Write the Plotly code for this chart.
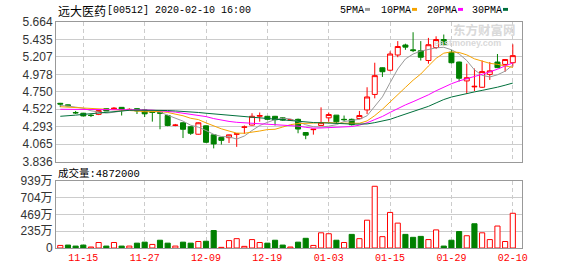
import plotly.graph_objects as go

# ---------------- data ----------------
dates = ["11-12", "11-13", "11-14", "11-15", "11-18", "11-19", "11-20", "11-21", "11-22", "11-25",
         "11-26", "11-27", "11-28", "11-29", "12-02", "12-03", "12-04", "12-05", "12-06", "12-09",
         "12-10", "12-11", "12-12", "12-13", "12-16", "12-17", "12-18", "12-19", "12-20", "12-23",
         "12-24", "12-27", "12-30", "12-31", "01-02", "01-03", "01-06", "01-07", "01-08", "01-09",
         "01-10", "01-13", "01-14", "01-15", "01-16", "01-17", "01-20", "01-21", "01-22", "01-23",
         "01-24", "01-29", "01-30", "01-31", "02-03", "02-04", "02-05", "02-06", "02-07", "02-10"]

opens = [4.600, 4.580, 4.480, 4.470, 4.445, 4.455, 4.530, 4.525, 4.547, 4.515,
         4.530, 4.513, 4.490, 4.480, 4.440, 4.310, 4.345, 4.293, 4.195, 4.305,
         4.187, 4.153, 4.150, 4.195, 4.285, 4.315, 4.430, 4.430, 4.430, 4.410,
         4.380, 4.390, 4.217, 4.255, 4.310, 4.410, 4.445, 4.390, 4.390, 4.400,
         4.513, 4.716, 5.065, 5.033, 5.232, 5.363, 5.300, 5.287, 5.160, 5.330,
         5.435, 5.267, 5.140, 4.893, 4.815, 4.810, 4.978, 5.140, 5.109, 5.131]
highs = [4.605, 4.585, 4.500, 4.475, 4.460, 4.510, 4.535, 4.550, 4.550, 4.535,
         4.535, 4.520, 4.500, 4.490, 4.450, 4.330, 4.350, 4.300, 4.350, 4.310,
         4.190, 4.160, 4.190, 4.210, 4.310, 4.470, 4.480, 4.435, 4.435, 4.420,
         4.390, 4.400, 4.220, 4.265, 4.547, 4.480, 4.445, 4.440, 4.400, 4.500,
         4.810, 5.131, 5.070, 5.280, 5.414, 5.380, 5.530, 5.414, 5.456, 5.477,
         5.500, 5.300, 5.145, 5.118, 5.055, 5.160, 5.140, 5.245, 5.180, 5.372]
lows = [4.550, 4.560, 4.460, 4.430, 4.420, 4.445, 4.500, 4.515, 4.440, 4.505,
        4.460, 4.420, 4.360, 4.260, 4.300, 4.300, 4.145, 4.187, 4.190, 4.080,
        4.010, 4.060, 4.080, 4.030, 4.200, 4.310, 4.360, 4.380, 4.310, 4.370,
        4.375, 4.208, 4.130, 4.190, 4.310, 4.360, 4.330, 4.370, 4.310, 4.390,
        4.460, 4.665, 4.945, 5.020, 5.203, 5.300, 5.270, 5.160, 5.118, 5.310,
        5.350, 5.120, 4.886, 4.725, 4.760, 4.800, 4.906, 5.060, 5.013, 5.080]
closes = [4.590, 4.568, 4.475, 4.435, 4.440, 4.505, 4.500, 4.535, 4.517, 4.520,
          4.500, 4.462, 4.480, 4.470, 4.310, 4.315, 4.260, 4.208, 4.345, 4.090,
          4.068, 4.115, 4.187, 4.200, 4.290, 4.430, 4.440, 4.390, 4.385, 4.380,
          4.385, 4.263, 4.183, 4.260, 4.347, 4.453, 4.357, 4.386, 4.320, 4.440,
          4.683, 4.962, 5.013, 5.245, 5.343, 5.335, 5.290, 5.203, 5.367, 5.435,
          5.370, 5.131, 4.928, 4.935, 4.822, 5.015, 5.025, 5.067, 5.173, 5.224]
prev_close = 4.550

# volume in 万 (10k shares)
volumes_wan = [36, 41, 27, 41, 14, 77, 27, 77, 27, 27,
               68, 82, 50, 109, 68, 27, 82, 68, 91, 95,
               245, 9, 104, 131, 23, 118, 77, 68, 109, 41,
               14, 82, 136, 36, 213, 200, 109, 77, 191, 131,
               390, 866, 159, 499, 349, 191, 150, 163, 118, 254,
               27, 109, 231, 172, 340, 213, 118, 308, 91, 487.2]

ma5 = [4.570, 4.565, 4.550, 4.535, 4.502, 4.485, 4.471, 4.483, 4.499, 4.515,
       4.514, 4.507, 4.496, 4.486, 4.444, 4.407, 4.367, 4.313, 4.288, 4.244,
       4.194, 4.165, 4.161, 4.132, 4.172, 4.244, 4.309, 4.350, 4.387, 4.405,
       4.396, 4.361, 4.319, 4.294, 4.288, 4.301, 4.320, 4.361, 4.373, 4.391,
       4.437, 4.558, 4.684, 4.869, 5.049, 5.180, 5.245, 5.283, 5.308, 5.326,
       5.333, 5.301, 5.246, 5.160, 5.037, 4.966, 4.945, 4.973, 5.020, 5.101]
ma10 = [4.555, 4.550, 4.545, 4.540, 4.535, 4.530, 4.525, 4.520, 4.515, 4.509,
        4.500, 4.489, 4.489, 4.493, 4.480, 4.461, 4.437, 4.404, 4.387, 4.344,
        4.301, 4.266, 4.237, 4.210, 4.208, 4.219, 4.237, 4.256, 4.260, 4.289,
        4.320, 4.335, 4.335, 4.341, 4.346, 4.349, 4.340, 4.340, 4.333, 4.339,
        4.369, 4.439, 4.522, 4.621, 4.720, 4.808, 4.902, 4.983, 5.088, 5.188,
        5.256, 5.273, 5.265, 5.234, 5.182, 5.150, 5.123, 5.110, 5.090, 5.069]
ma20 = [4.522, 4.522, 4.521, 4.521, 4.520, 4.520, 4.520, 4.520, 4.519, 4.518,
        4.516, 4.513, 4.510, 4.505, 4.495, 4.485, 4.470, 4.455, 4.440, 4.426,
        4.400, 4.378, 4.363, 4.351, 4.344, 4.340, 4.337, 4.330, 4.323, 4.316,
        4.311, 4.301, 4.286, 4.275, 4.277, 4.284, 4.289, 4.298, 4.296, 4.314,
        4.345, 4.387, 4.428, 4.481, 4.533, 4.579, 4.621, 4.662, 4.711, 4.764,
        4.813, 4.856, 4.893, 4.927, 4.951, 4.979, 5.012, 5.046, 5.089, 5.128]
ma30 = [4.430, 4.435, 4.445, 4.455, 4.465, 4.475, 4.485, 4.495, 4.502, 4.508,
        4.510, 4.510, 4.510, 4.508, 4.505, 4.500, 4.495, 4.487, 4.480, 4.470,
        4.460, 4.450, 4.443, 4.435, 4.425, 4.418, 4.410, 4.400, 4.392, 4.380,
        4.374, 4.363, 4.354, 4.348, 4.345, 4.343, 4.338, 4.333, 4.327, 4.324,
        4.330, 4.347, 4.365, 4.390, 4.425, 4.459, 4.493, 4.526, 4.560, 4.605,
        4.649, 4.682, 4.707, 4.732, 4.749, 4.769, 4.788, 4.811, 4.837, 4.865]

price_ticks = [3.836, 4.065, 4.293, 4.522, 4.750, 4.978, 5.207, 5.435, 5.664]
price_tick_labels = ["3.836", "4.065", "4.293", "4.522", "4.750", "4.978", "5.207", "5.435", "5.664"]
vol_ticks = [0, 235, 469, 704, 939]
vol_tick_labels = ["0", "235万", "469万", "704万", "939万"]
date_tick_labels = ["11-15", "11-27", "12-09", "12-19", "01-03", "01-15", "01-29", "02-10"]

stock_name = "远大医药"
stock_info = "[00512] 2020-02-10 16:00"
ma_names = ["5PMA", "10PMA", "20PMA", "30PMA"]
ma_colors = ["#999999", "#f5a300", "#ff00ff", "#00703c"]

# ---------------- figure ----------------
W, H = 578, 276
L, R, T, B = 56, 522, 22, 255
PW, PH = R - L, B - T

def px_x(px):
    return (px - L) / PW

def px_y(py):
    return (B - py) / PH

x = list(range(len(dates)))
RED = "#ff0000"
GREEN = "#008000"

fig = go.Figure()

for vals, col in zip([ma5, ma10, ma20, ma30], ma_colors):
    fig.add_trace(go.Scatter(x=x, y=vals, mode="lines", line=dict(color=col, width=1),
                             xaxis="x", yaxis="y", showlegend=False, hoverinfo="skip"))

fig.add_trace(go.Candlestick(
    x=x, open=opens, high=highs, low=lows, close=closes,
    increasing=dict(line=dict(color=RED, width=1), fillcolor="#ffffff"),
    decreasing=dict(line=dict(color=GREEN, width=1), fillcolor=GREEN),
    whiskerwidth=0, xaxis="x", yaxis="y", showlegend=False))

prevs = [prev_close] + closes[:-1]
up = [c >= p for c, p in zip(closes, prevs)]
fig.add_trace(go.Bar(
    x=x, y=volumes_wan, xaxis="x2", yaxis="y2", showlegend=False,
    marker=dict(color=["#ffffff" if u else GREEN for u in up],
                line=dict(color=[RED if u else GREEN for u in up], width=1))))

tickpos = [dates.index(d) for d in date_tick_labels]
xrange = [-0.56, 60.2]
frame = dict(showline=True, linecolor="#999999", linewidth=1, mirror=True)

fig.update_layout(
    width=W, height=H,
    margin=dict(l=L, r=W - R, t=T, b=H - B),
    paper_bgcolor="white", plot_bgcolor="white",
    boxgap=0.35, boxgroupgap=0, bargap=0.33,
    xaxis=dict(domain=[0, 1], anchor="y", range=xrange, tickmode="array", tickvals=tickpos,
               showticklabels=False, showgrid=True, gridcolor="#cccccc", griddash="4px,3px",
               gridwidth=1, zeroline=False, rangeslider=dict(visible=False), **frame),
    yaxis=dict(domain=[px_y(166), 1], anchor="x", range=[price_ticks[0], price_ticks[-1]],
               tickmode="array", tickvals=price_ticks, ticktext=price_tick_labels,
               showgrid=True, gridcolor="#cccccc", gridwidth=1, zeroline=False,
               tickfont=dict(family="Liberation Sans, Arial", size=12, color="#333333"), **frame),
    xaxis2=dict(domain=[0, 1], anchor="y2", matches="x", range=xrange, tickmode="array",
                tickvals=tickpos, ticktext=date_tick_labels, showgrid=True, gridcolor="#cccccc",
                griddash="4px,3px", gridwidth=1, zeroline=False,
                tickfont=dict(family="Liberation Mono, monospace", size=10, color=RED), **frame),
    yaxis2=dict(domain=[0, px_y(186)], anchor="x2", range=[vol_ticks[0], vol_ticks[-1]],
                tickmode="array", tickvals=vol_ticks, ticktext=vol_tick_labels,
                showgrid=True, gridcolor="#cccccc", gridwidth=1, zeroline=False,
                tickfont=dict(family="Liberation Sans, Noto Sans CJK SC", size=12, color="#333333"),
                **frame),
)

ann = []
def add_text(px, py, text, size, family, color="#000000", anchor="left", bold=False):
    ann.append(dict(xref="paper", yref="paper", x=px_x(px), y=px_y(py),
                    text=("<b>%s</b>" % text) if bold else text,
                    showarrow=False, xanchor=anchor, yanchor="middle",
                    font=dict(size=size, family=family, color=color)))

# title
add_text(56, 10, stock_name, 12, "Noto Sans CJK SC")
add_text(105, 10, stock_info, 10, "Liberation Mono")
# MA legend
leg_x = [338, 379, 425, 470]
shapes = []
for name, col, lx in zip(ma_names, ma_colors, leg_x):
    add_text(lx, 10, name, 10, "Liberation Mono")
    sx = lx + 6 * len(name) + 3
    shapes.append(dict(type="rect", xref="paper", yref="paper", x0=px_x(sx), x1=px_x(sx + 5),
                       y0=px_y(10.5), y1=px_y(7.5), fillcolor=col, line=dict(width=0)))
# volume label
add_text(56, 178, "成交量:%d" % round(volumes_wan[-1] * 10000), 10.5,
         "Liberation Mono, Noto Sans CJK SC")
# watermark
add_text(451, 30, "东方财富网", 12.5, "Noto Sans CJK SC", color="#d9d9d9", bold=True)
add_text(432, 44, "eastmoney.com", 9, "Liberation Sans", color="#d9d9d9", bold=True)

fig.update_layout(annotations=ann, shapes=shapes)
fig.write_html("out.html")
